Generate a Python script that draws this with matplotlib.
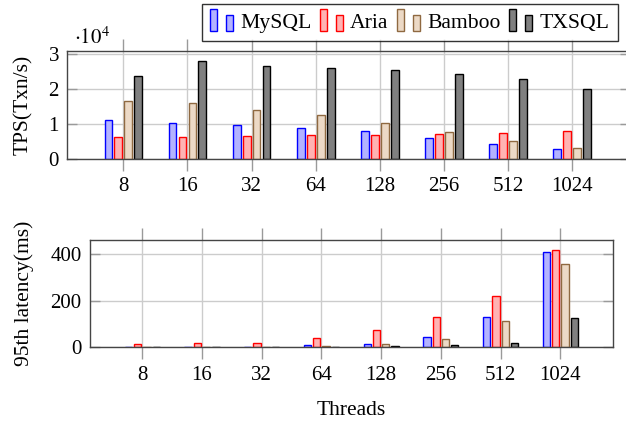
import numpy as np
import matplotlib
matplotlib.use("Agg")
import matplotlib.pyplot as plt
from matplotlib.patches import Rectangle
from matplotlib.legend_handler import HandlerBase

# ----- datos -----
threads = ["8", "16", "32", "64", "128", "256", "512", "1024"]
systems = ["MySQL", "Aria", "Bamboo", "TXSQL"]

tps_mysql = [11100, 10300, 9600, 8800, 7800, 6000, 4100, 2700]
tps_aria = [6300, 6300, 6500, 6700, 6900, 7200, 7300, 7900]
tps_bamboo = [16500, 16000, 14000, 12500, 10200, 7600, 5000, 3100]
tps_txsql = [23800, 28000, 26600, 26000, 25500, 24300, 22700, 19800]

lat_mysql = [1, 1.5, 2, 7, 15, 43, 130, 412]
lat_aria = [11, 19, 19, 40, 72, 130, 222, 420]
lat_bamboo = [1, 1, 1, 4, 12, 36, 111, 357]
lat_txsql = [0.5, 0.5, 0.5, 1, 4, 9, 19, 125]

# ----- estilo -----
FACES = ["#b3b3ff", "#ffb3b3", "#ecd9c6", "#808080"]
EDGES = ["#0000ff", "#ff0000", "#8f6941", "#000000"]
GRID = "#cccccc"
TICK = "#9a9a9a"
SPINE = "#454545"
FS = 15

plt.rcParams["font.family"] = ["Liberation Serif", "DejaVu Serif"]
plt.rcParams["mathtext.fontset"] = "stix"

W, H = 626, 421
fig = plt.figure(figsize=(W / 100, H / 100), dpi=100)


def px_axes(left, top, right, bottom):
    return fig.add_axes([left / W, 1 - bottom / H, (right - left) / W, (bottom - top) / H])


def style(ax):
    for s in ax.spines.values():
        s.set_color(SPINE)
        s.set_linewidth(1.0)
    ax.set_axisbelow(True)
    ax.grid(True, color=GRID, linewidth=1.0)
    ax.tick_params(axis="x", direction="out", length=8.5, width=1, color=TICK,
                   top=True, bottom=True, labelsize=FS, pad=5)
    ax.tick_params(axis="y", direction="in", length=7, width=1, color=TICK,
                   left=True, right=True, labelsize=FS, pad=6)


def bars(ax, series):
    x = np.arange(len(threads))
    for i, vals in enumerate(series):
        ax.bar(x + (i - 1.5) * 0.155, vals, width=0.122, color=FACES[i],
               edgecolor=EDGES[i], linewidth=1.0, label=systems[i])
    ax.set_xticks(x)
    ax.set_xticklabels(threads)


# ----- panel superior: TPS -----
ax1 = px_axes(67.3, 50.7, 630, 158.7)
bars(ax1, [np.array(v) / 1e4 for v in (tps_mysql, tps_aria, tps_bamboo, tps_txsql)])
ax1.set_xlim(-0.874, 7.90)
ax1.set_ylim(0, 3.09)
ax1.set_yticks([0, 1, 2, 3])
style(ax1)
ax1.set_ylabel("TPS(Txn/s)", fontsize=FS + 0.5)
ax1.yaxis.set_label_coords(-0.06, 0.5)
ax1.text(0.012, 1.02, r"$\cdot10^{4}$", transform=ax1.transAxes, fontsize=FS,
         ha="left", va="bottom")

# ----- panel inferior: latencia p95 -----
ax2 = px_axes(90, 240, 612.7, 347)
bars(ax2, [lat_mysql, lat_aria, lat_bamboo, lat_txsql])
ax2.set_xlim(-0.875, 7.875)
ax2.set_ylim(0, 462)
ax2.set_yticks([0, 200, 400])
style(ax2)
ax2.set_ylabel("95th latency(ms)", fontsize=FS + 0.5)
ax2.yaxis.set_label_coords(-0.108, 0.5)
ax2.set_xlabel("Threads", fontsize=FS + 0.5, labelpad=12)


# ----- leyenda con dos barritas por entrada (como pgfplots ybar) -----
class TwoBars(HandlerBase):
    def create_artists(self, legend, orig, xd, yd, width, height, fontsize, trans):
        p = orig.patches[0]
        w = 0.33 * fontsize
        kw = dict(facecolor=p.get_facecolor(), edgecolor=p.get_edgecolor(),
                  linewidth=1.0, transform=trans)
        y0 = -yd - 0.08 * fontsize
        r1 = Rectangle((-xd, y0), w, 0.98 * fontsize, **kw)
        r2 = Rectangle((-xd + 0.73 * fontsize, y0), w, 0.74 * fontsize, **kw)
        return [r1, r2]


handles, labels = ax1.get_legend_handles_labels()
leg = fig.legend(handles, labels, loc="upper left", ncol=4,
                 bbox_to_anchor=(201.7 / W, 1 - 4 / H), bbox_transform=fig.transFigure,
                 borderaxespad=0, fontsize=FS + 0.6, frameon=True, fancybox=False,
                 handler_map={h: TwoBars() for h in handles},
                 handlelength=1.06, handleheight=0.8, handletextpad=0.33,
                 columnspacing=0.4, borderpad=0.38)
leg.get_frame().set_edgecolor("black")
leg.get_frame().set_linewidth(1.0)

fig.savefig("out.png", dpi=100)
